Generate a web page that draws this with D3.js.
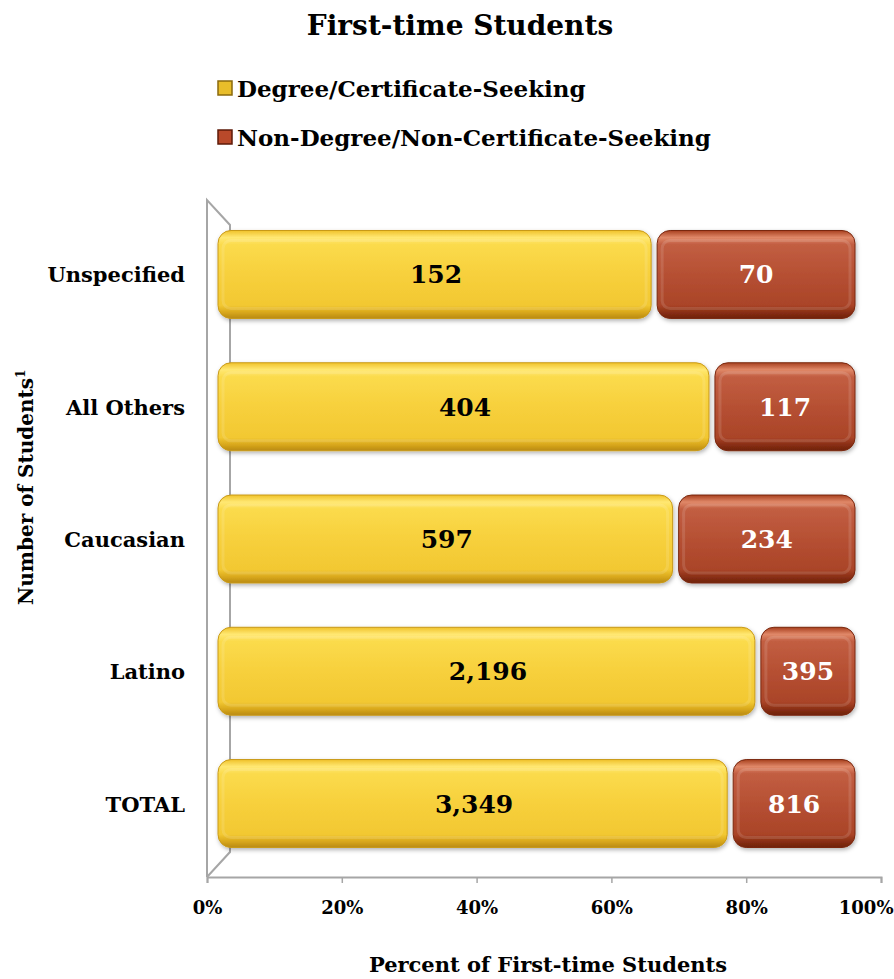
<!DOCTYPE html>
<html>
<head>
<meta charset="utf-8">
<script src="https://cdn.jsdelivr.net/npm/d3@7"></script>
<style>
  body { margin: 0; background: #fff; }
  text { font-family: "DejaVu Serif", "Liberation Serif", serif; font-weight: bold; }
</style>
</head>
<body>
<div id="chart"></div>
<script>
// Data
const categories = ['Unspecified', 'All Others', 'Caucasian', 'Latino', 'TOTAL'];
const degreeSeeking = [152, 404, 597, 2196, 3349];
const nonDegreeSeeking = [70, 117, 234, 395, 816];
const seriesNames = ['Degree/Certificate-Seeking', 'Non-Degree/Non-Certificate-Seeking'];
const tickValues = [0, 0.2, 0.4, 0.6, 0.8, 1];

const width = 894;
const height = 979;

let svg = d3.select('#chart')
            .append('svg')
            .attr('width', width)
            .attr('height', height);

let defs = svg.append('defs');

// bevel gradients
function bevel(id, stops) {
  let g = defs.append('linearGradient')
              .attr('id', id)
              .attr('x1', 0).attr('y1', 0)
              .attr('x2', 0).attr('y2', 1);
  stops.forEach(s => g.append('stop').attr('offset', s[0]).attr('stop-color', s[1]));
}
bevel('yellowFace', [[0, '#f0c22a'], [0.08, '#ffe873'], [0.16, '#fbdb4c'], [0.5, '#f7d03c'], [0.85, '#f2c832'], [0.93, '#d9a81c'], [1, '#b98a12']]);
bevel('redFace', [[0, '#a8401f'], [0.08, '#e08868'], [0.16, '#c25e42'], [0.5, '#b65033'], [0.85, '#aa4428'], [0.93, '#8a2f14'], [1, '#6e220c']]);

let shadow = defs.append('filter').attr('id', 'shadow')
                 .attr('x', '-5%').attr('y', '-10%').attr('width', '110%').attr('height', '125%');
shadow.append('feDropShadow')
      .attr('dx', 1).attr('dy', 2).attr('stdDeviation', 2)
      .attr('flood-color', '#000').attr('flood-opacity', 0.3);

// Title
svg.append('text')
   .attr('x', 460)
   .attr('y', 35)
   .attr('text-anchor', 'middle')
   .style('font-size', '28px')
   .text('First-time Students');

// Legend
let legendColors = [['#e8bd2a', '#8a6a0c'], ['#b9492a', '#5e1a08']];
let legend = svg.selectAll('.legend')
                .data(seriesNames)
                .enter()
                .append('g')
                .attr('class', 'legend')
                .attr('transform', (d, i) => 'translate(218,' + (88 + i * 49) + ')');

legend.append('rect')
      .attr('x', 0).attr('y', -7)
      .attr('width', 14).attr('height', 14)
      .attr('fill', (d, i) => legendColors[i][0])
      .attr('stroke', (d, i) => legendColors[i][1])
      .attr('stroke-width', 1.5);

legend.append('text')
      .attr('x', 19)
      .attr('y', 9)
      .style('font-size', '23px')
      .text(d => d);

// Scales
// front plane (axis) and back plane (bars)
let xAxisScale = d3.scaleLinear().domain([0, 1]).range([207, 881]);
let xBar = d3.scaleLinear().domain([0, 1]).range([218, 855]);
let y = d3.scaleBand()
          .domain(categories)
          .range([208, 870])
          .paddingInner(0.335)
          .paddingOuter(0.17);

const depthX = 23;
const depthY = 25;
const axisY = 877;
const topY = 200;

// 3D wall frame
let frame = svg.append('g')
               .attr('fill', 'none')
               .attr('stroke', '#a6a6a6')
               .attr('stroke-width', 2);

frame.append('path')
     .attr('d', d3.line()([
       [xAxisScale(0), axisY],
       [xAxisScale(0), topY],
       [xAxisScale(0) + depthX, topY + depthY],
       [xAxisScale(0) + depthX, axisY - depthY],
       [xAxisScale(0), axisY]
     ]));

// X axis
let xAxis = svg.append('g')
               .attr('transform', 'translate(0,' + axisY + ')')
               .call(d3.axisBottom(xAxisScale)
                       .tickValues(tickValues)
                       .tickSize(6)
                       .tickFormat(d3.format('.0%')));
xAxis.select('.domain').attr('stroke', '#a6a6a6').attr('stroke-width', 2);
xAxis.selectAll('.tick line').attr('stroke', '#a6a6a6').attr('stroke-width', 1.5);
xAxis.selectAll('.tick text')
     .attr('y', 24)
     .attr('fill', '#000')
     .style('font-family', '"DejaVu Serif", serif')
     .style('font-weight', 'bold')
     .style('font-size', '18px');
// last label is pulled in so it stays inside the picture
xAxis.selectAll('.tick text')
     .filter(d => d === 1)
     .attr('text-anchor', 'end')
     .attr('x', width - xAxisScale(1) - 1);

// Category labels
svg.selectAll('.cat')
   .data(categories)
   .enter()
   .append('text')
   .attr('class', 'cat')
   .attr('x', 185)
   .attr('y', d => y(d) + y.bandwidth() / 2 + 8)
   .attr('text-anchor', 'end')
   .style('font-size', '21px')
   .text(d => d);

// Axis titles
let yTitle = svg.append('text')
                .attr('transform', 'translate(33,605) rotate(-90)')
                .attr('text-anchor', 'start')
                .style('font-size', '20px');
yTitle.append('tspan').text('Number of Students');
yTitle.append('tspan').attr('dy', -8).style('font-size', '12px').text('1');

svg.append('text')
   .attr('x', 548)
   .attr('y', 972)
   .attr('text-anchor', 'middle')
   .style('font-size', '21px')
   .text('Percent of First-time Students');

// Stacked percentages
let rows = categories.map((c, i) => {
  let total = degreeSeeking[i] + nonDegreeSeeking[i];
  let p = degreeSeeking[i] / total;
  return [
    {cat: c, x0: 0, x1: p, value: degreeSeeking[i], s: 0},
    {cat: c, x0: p, x1: 1, value: nonDegreeSeeking[i], s: 1}
  ];
});
let segs = rows.flat();

const gap = 3;
let seg = svg.selectAll('.seg')
             .data(segs)
             .enter()
             .append('g')
             .attr('class', 'seg');

seg.append('rect')
   .attr('x', d => xBar(d.x0) + (d.s ? gap : 0))
   .attr('y', d => y(d.cat))
   .attr('width', d => xBar(d.x1) - xBar(d.x0) - gap)
   .attr('height', y.bandwidth())
   .attr('rx', 13)
   .attr('fill', d => d.s ? 'url(#redFace)' : 'url(#yellowFace)')
   .attr('stroke', d => d.s ? '#7a2810' : '#c99a18')
   .attr('stroke-width', 1)
   .attr('filter', 'url(#shadow)');

// soft inner rim for the rounded look
seg.append('rect')
   .attr('x', d => xBar(d.x0) + (d.s ? gap : 0) + 5)
   .attr('y', d => y(d.cat) + 10)
   .attr('width', d => xBar(d.x1) - xBar(d.x0) - gap - 10)
   .attr('height', y.bandwidth() - 20)
   .attr('rx', 8)
   .attr('fill', 'none')
   .attr('stroke', '#fff')
   .attr('stroke-opacity', 0.12)
   .attr('stroke-width', 3);

seg.append('text')
   .attr('x', d => (xBar(d.x0) + xBar(d.x1)) / 2 + (d.s ? gap / 2 : 0))
   .attr('y', d => y(d.cat) + y.bandwidth() / 2 + 9)
   .attr('text-anchor', 'middle')
   .attr('fill', d => d.s ? '#fff' : '#000')
   .style('font-size', '25px')
   .text(d => d3.format(',')(d.value));
</script>
</body>
</html>
